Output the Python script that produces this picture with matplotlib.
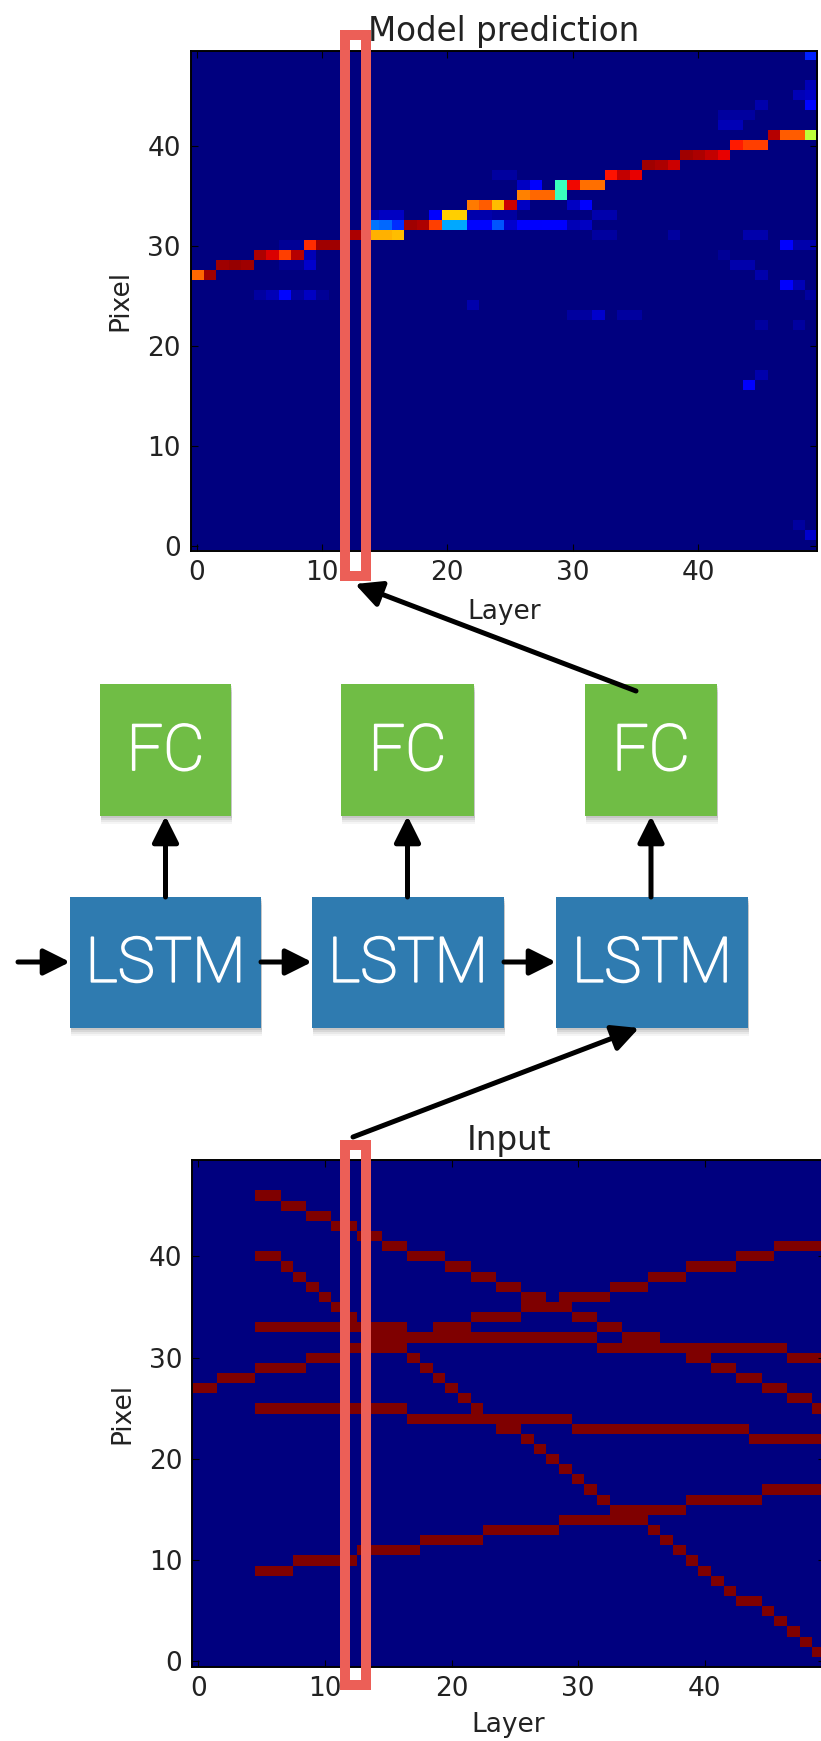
import numpy as np
import matplotlib
matplotlib.use("Agg")
import matplotlib.pyplot as plt
import matplotlib.patheffects as pe
from matplotlib.patches import Rectangle

# ---------------- data ----------------
N_LAYERS = 50
N_PIXELS = 50
tick_values = [0, 10, 20, 30, 40]

# input hits: each track is a list of (pixel_row, first_layer, last_layer)
track_0 = [(27, 0, 1), (28, 2, 4), (29, 5, 8), (30, 9, 11), (31, 12, 15), (32, 16, 18),
           (33, 19, 21), (34, 22, 25), (35, 26, 28), (36, 29, 32), (37, 33, 35),
           (38, 36, 38), (39, 39, 42), (40, 43, 45), (41, 46, 49)]
track_1 = [(46, 5, 6), (45, 7, 8), (44, 9, 10), (43, 11, 12), (42, 13, 14), (41, 15, 16),
           (40, 17, 19), (39, 20, 21), (38, 22, 23), (37, 24, 25), (36, 26, 27),
           (35, 28, 29), (34, 30, 31), (33, 32, 33), (32, 34, 36), (31, 37, 38),
           (30, 39, 40), (29, 41, 42), (28, 43, 44), (27, 45, 46), (26, 47, 48), (25, 49, 49)]
track_2 = [(40, 5, 6), (39, 7, 7), (38, 8, 8), (37, 9, 9), (36, 10, 10), (35, 11, 11),
           (34, 12, 12), (33, 13, 13), (32, 14, 15), (31, 16, 16), (30, 17, 17),
           (29, 18, 18), (28, 19, 19), (27, 20, 20), (26, 21, 21), (25, 22, 22),
           (24, 23, 23), (23, 24, 25), (22, 26, 26), (21, 27, 27), (20, 28, 28),
           (19, 29, 29), (18, 30, 30), (17, 31, 31), (16, 32, 32), (15, 33, 34),
           (14, 35, 35), (13, 36, 36), (12, 37, 37), (11, 38, 38), (10, 39, 39),
           (9, 40, 40), (8, 41, 41), (7, 42, 42), (6, 43, 44), (5, 45, 45), (4, 46, 46),
           (3, 47, 47), (2, 48, 48), (1, 49, 49)]
track_3 = [(33, 5, 16), (32, 17, 31), (31, 32, 46), (30, 47, 49)]
track_4 = [(25, 5, 16), (24, 17, 29), (23, 30, 43), (22, 44, 49)]
track_5 = [(9, 5, 7), (10, 8, 12), (11, 13, 17), (12, 18, 22), (13, 23, 28),
           (14, 29, 34), (15, 35, 38), (16, 39, 44), (17, 45, 49)]
input_tracks = [track_0, track_1, track_2, track_3, track_4, track_5]

# model prediction: (pixel_row, layer, probability); everything else ~0
pred_cells = [
    (27, 0, 0.80), (27, 1, 0.97),
    (28, 2, 0.97), (28, 3, 0.98), (28, 4, 0.97),
    (29, 5, 0.96), (29, 6, 0.92), (29, 7, 0.84), (29, 8, 0.95),
    (30, 9, 0.86), (30, 10, 0.97), (30, 11, 0.97),
    (31, 12, 0.96), (31, 13, 0.96), (31, 14, 0.72), (31, 15, 0.72), (31, 16, 0.71),
    (32, 14, 0.24), (32, 15, 0.23), (32, 16, 0.17), (32, 17, 0.97), (32, 18, 0.96),
    (32, 19, 0.84), (32, 20, 0.29), (32, 21, 0.29), (32, 22, 0.13), (32, 23, 0.13),
    (32, 24, 0.21), (32, 25, 0.07), (32, 26, 0.12), (32, 27, 0.11), (32, 28, 0.12),
    (32, 29, 0.12), (32, 30, 0.05), (32, 31, 0.06),
    (33, 14, 0.04), (33, 15, 0.06), (33, 16, 0.06), (33, 19, 0.12), (33, 20, 0.69),
    (33, 21, 0.69), (33, 22, 0.04), (33, 23, 0.04), (33, 24, 0.03), (33, 25, 0.03),
    (33, 32, 0.04), (33, 33, 0.04),
    (34, 22, 0.78), (34, 23, 0.81), (34, 24, 0.71), (34, 25, 0.93), (34, 26, 0.06),
    (34, 30, 0.06), (34, 31, 0.12),
    (35, 26, 0.77), (35, 27, 0.80), (35, 28, 0.80), (35, 29, 0.42),
    (36, 26, 0.06), (36, 27, 0.12), (36, 29, 0.42), (36, 30, 0.90), (36, 31, 0.79),
    (36, 32, 0.79),
    (37, 24, 0.03), (37, 25, 0.03), (37, 33, 0.89), (37, 34, 0.94), (37, 35, 0.91),
    (38, 36, 0.97), (38, 37, 0.96), (38, 38, 0.93),
    (39, 39, 0.97), (39, 40, 0.96), (39, 41, 0.94), (39, 42, 0.91),
    (40, 43, 0.88), (40, 44, 0.84), (40, 45, 0.84),
    (41, 46, 0.95), (41, 47, 0.81), (41, 48, 0.81), (41, 49, 0.58),
    (28, 7, 0.02), (28, 8, 0.02), (28, 9, 0.07), (29, 9, 0.05), (30, 7, 0.02), (30, 8, 0.02),
    (25, 5, 0.03), (25, 6, 0.05), (25, 7, 0.13), (25, 8, 0.03), (25, 9, 0.06), (25, 10, 0.02),
    (24, 22, 0.04), (23, 30, 0.03), (23, 31, 0.03), (23, 32, 0.07), (23, 34, 0.03),
    (23, 35, 0.03), (31, 32, 0.03), (31, 33, 0.03),
    (49, 49, 0.16), (46, 49, 0.05), (45, 48, 0.05), (45, 49, 0.06), (44, 49, 0.13),
    (44, 45, 0.04), (43, 44, 0.03), (42, 42, 0.05), (42, 43, 0.05), (43, 42, 0.03),
    (43, 43, 0.03), (31, 38, 0.03), (31, 44, 0.04), (31, 45, 0.04), (30, 47, 0.12),
    (30, 48, 0.04), (30, 49, 0.04), (29, 42, 0.02), (28, 43, 0.04), (28, 44, 0.04),
    (27, 45, 0.04), (26, 47, 0.11), (26, 48, 0.05), (25, 49, 0.03), (22, 45, 0.03),
    (22, 48, 0.03), (17, 45, 0.04), (16, 44, 0.11), (2, 48, 0.03), (1, 49, 0.07),
]

# ---------------- build grids ----------------
input_grid = np.zeros((N_PIXELS, N_LAYERS))
for track in input_tracks:
    for row, c0, c1 in track:
        input_grid[row, c0:c1 + 1] = 1.0

pred_grid = np.zeros((N_PIXELS, N_LAYERS))
for row, col, val in pred_cells:
    pred_grid[row, col] = val

# ---------------- figure ----------------
W, H = 821, 1741
fig = plt.figure(figsize=(W / 100, H / 100), dpi=100)
fig.patch.set_facecolor("white")

TICK_FS = 19
LABEL_FS = 19
TITLE_FS = 23.5
TXT = "#222222"


def style_heatmap(ax, title):
    ax.set_xlim(-0.5, N_LAYERS - 0.5)
    ax.set_ylim(-0.5, N_PIXELS - 0.5)
    ax.set_xticks(tick_values)
    ax.set_yticks(tick_values)
    ax.tick_params(direction="in", top=True, right=True, length=5, width=0.8,
                   labelsize=TICK_FS, labelcolor=TXT, pad=7)
    for sp in ax.spines.values():
        sp.set_linewidth(1.4)
        sp.set_color("black")
    ax.set_title(title, fontsize=TITLE_FS, color=TXT, pad=7)
    ax.set_xlabel("Layer", fontsize=LABEL_FS, color=TXT, labelpad=9)
    ax.set_ylabel("Pixel", fontsize=LABEL_FS, color=TXT, labelpad=10)


ax_top = fig.add_axes([190.5 / W, 1 - 550.5 / H, (817 - 190.5) / W, 500 / H])
ax_top.imshow(pred_grid, cmap="jet", vmin=0, vmax=1, origin="lower",
              aspect="auto", interpolation="nearest")
style_heatmap(ax_top, "Model prediction")

ax_bot = fig.add_axes([192 / W, 1 - 1666.5 / H, (825 - 192) / W, 506.5 / H])
ax_bot.imshow(input_grid, cmap="jet", vmin=0, vmax=1, origin="lower",
              aspect="auto", interpolation="nearest")
style_heatmap(ax_bot, "Input")
ax_bot.xaxis.labelpad = 7

# ---------------- diagram overlay (pixel coordinates) ----------------
ov = fig.add_axes([0, 0, 1, 1])
ov.set_xlim(0, W)
ov.set_ylim(H, 0)
ov.axis("off")
ov.set_zorder(10)
ov.patch.set_alpha(0)

GREEN = "#70BD45"
BLUE = "#2F7BB0"
fc_boxes = [(100, 684, 131, 132), (341, 684, 133, 132), (585, 684, 132, 132)]
lstm_boxes = [(70, 897, 191, 131), (312, 897, 192, 131), (556, 897, 192, 131)]


def box(x, y, w, h, color, label, fs):
    for k, a in zip((8, 6, 4, 2), (0.04, 0.05, 0.07, 0.08)):
        ov.add_patch(Rectangle((x + 1, y + k), w, h, facecolor="black",
                               edgecolor="none", alpha=a, zorder=1))
    ov.add_patch(Rectangle((x, y), w, h, facecolor=color, edgecolor="none", zorder=2))
    ov.text(x + w / 2, y + h / 2 + 2, label, color="white", fontsize=fs,
            family="Roboto", fontweight="light", ha="center", va="center", zorder=3,
            path_effects=[pe.withStroke(linewidth=1.3, foreground="white")])


for (x, y, w, h) in fc_boxes:
    box(x, y, w, h, GREEN, "FC", 46)
for (x, y, w, h) in lstm_boxes:
    box(x, y, w, h, BLUE, "LSTM", 45)


def arrow(tail, tip):
    ov.annotate("", xy=tip, xytext=tail, zorder=4,
                arrowprops=dict(arrowstyle="-|>,head_length=1.0,head_width=0.5",
                                mutation_scale=16, lw=3.6, color="black",
                                shrinkA=0, shrinkB=0))


# LSTM -> FC
for (lx, ly, lw_, lh), (fx, fy, fw, fh) in zip(lstm_boxes, fc_boxes):
    cx = fx + fw / 2
    arrow((cx, ly), (cx, fy + fh))
# recurrent chain
arrow((18, 962), (lstm_boxes[0][0], 962))
arrow((lstm_boxes[0][0] + lstm_boxes[0][2], 962), (lstm_boxes[1][0], 962))
arrow((lstm_boxes[1][0] + lstm_boxes[1][2], 962), (lstm_boxes[2][0], 962))
# FC -> prediction column, input column -> LSTM
arrow((636, 691), (355, 584))
arrow((353, 1137), (639, 1028))

# highlighted columns
RED = "#EC5F57"
ov.add_patch(Rectangle((345, 35), 21, 541, fill=False, edgecolor=RED, lw=7.2,
                       joinstyle="miter", zorder=5))
ov.add_patch(Rectangle((345, 1145), 21, 540, fill=False, edgecolor=RED, lw=7.2,
                       joinstyle="miter", zorder=5))

fig.savefig("out.png", dpi=100)
